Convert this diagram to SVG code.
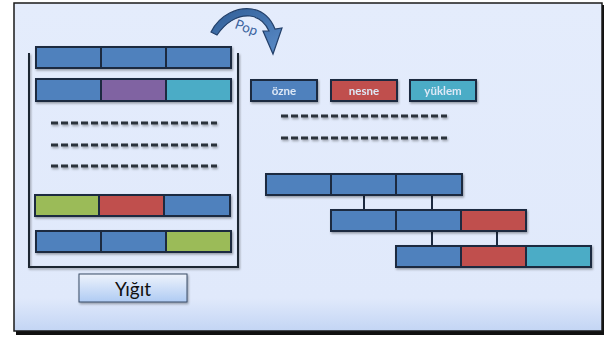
<svg xmlns="http://www.w3.org/2000/svg" width="610" height="340" viewBox="0 0 610 340">
<defs>
<linearGradient id="bg" x1="0" y1="0" x2="0" y2="1">
<stop offset="0" stop-color="#e4ecfc"/>
<stop offset="0.9" stop-color="#e0e9fb"/>
<stop offset="1" stop-color="#c3d5f4"/>
</linearGradient>
<linearGradient id="btn" x1="0" y1="0" x2="0" y2="1">
<stop offset="0" stop-color="#eef3fc"/>
<stop offset="1" stop-color="#afcbf3"/>
</linearGradient>
<linearGradient id="arr" x1="0" y1="0" x2="1" y2="1">
<stop offset="0" stop-color="#2f5d96"/>
<stop offset="1" stop-color="#5b8cc8"/>
</linearGradient>
<filter id="sh" x="-10%" y="-10%" width="130%" height="140%">
<feDropShadow dx="1" dy="1.5" stdDeviation="0.8" flood-color="#000" flood-opacity="0.35"/>
</filter>
</defs>
<style>
.cell{stroke:#1c2a40;stroke-width:2}
.b{fill:#4f81bd}.p{fill:#8064a2}.t{fill:#4bacc6}.r{fill:#c0504d}.g{fill:#9bbb59}
.dash{stroke:#2a303b;stroke-width:2.8;stroke-dasharray:7 3;fill:none}
.lbl{font-family:Lato,"Open Sans",sans-serif;font-size:11.5px;font-weight:bold;fill:#dde8f6;text-anchor:middle}
.conn{stroke:#1c2a40;stroke-width:2;fill:none}
</style>
<rect x="16" y="5" width="588" height="330" fill="#111"/>
<rect x="14" y="3" width="588" height="328" fill="url(#bg)" stroke="#1a1a1a" stroke-width="1.5"/>
<path d="M29,53 V267 H238 V53" fill="none" stroke="#1e2633" stroke-width="2" filter="url(#sh)"/>
<g id="stack-row1" filter="url(#sh)">
<rect class="cell b" x="36" y="47" width="65" height="21"/>
<rect class="cell b" x="101" y="47" width="65" height="21"/>
<rect class="cell b" x="166" y="47" width="65" height="21"/>
</g>
<g id="stack-row2" filter="url(#sh)">
<rect class="cell b" x="36" y="79" width="65" height="22"/>
<rect class="cell p" x="101" y="79" width="65" height="22"/>
<rect class="cell t" x="166" y="79" width="65" height="22"/>
</g>
<g id="stack-dashes" filter="url(#sh)">
<line class="dash" x1="51" y1="123" x2="217" y2="123"/>
<line class="dash" x1="51" y1="145" x2="217" y2="145"/>
<line class="dash" x1="51" y1="166" x2="217" y2="166"/>
</g>
<g id="stack-row3" filter="url(#sh)">
<rect class="cell g" x="35" y="195" width="64" height="21"/>
<rect class="cell r" x="99" y="195" width="65" height="21"/>
<rect class="cell b" x="164" y="195" width="66" height="21"/>
</g>
<g id="stack-row4" filter="url(#sh)">
<rect class="cell b" x="36" y="231" width="65" height="21"/>
<rect class="cell b" x="101" y="231" width="65" height="21"/>
<rect class="cell g" x="166" y="231" width="65" height="21"/>
</g>
<g id="yigit">
<rect x="79" y="274" width="108" height="28" fill="url(#btn)" stroke="#3b4c66" stroke-width="1" filter="url(#sh)"/>
<text x="133" y="296" font-family="Lato,'Open Sans',sans-serif" font-size="19" fill="#111" text-anchor="middle">Yığıt</text>
</g>
<g id="pop">
<path d="M211,32 C220,14 238,7 252,9 C264,11 271,19 275,29 L282,28 L273,54 L263,31 L269,31 C265,22 259,17 250,16 C238,15 226,22 217,35 Z" fill="url(#arr)" stroke="#23406a" stroke-width="1.2"/>
<text x="0" y="0" transform="translate(234,28) rotate(20)" font-family="Lato,'Open Sans',sans-serif" font-size="13.5" fill="#3c64a0">Pop</text>
</g>
<g id="ozne" filter="url(#sh)">
<rect class="cell b" x="251" y="80" width="66" height="21"/>
<text class="lbl" x="284" y="94.5">özne</text>
</g>
<g id="nesne" filter="url(#sh)">
<rect class="cell r" x="331" y="80" width="66" height="21"/>
<text class="lbl" x="364" y="94.5">nesne</text>
</g>
<g id="yuklem" filter="url(#sh)">
<rect class="cell t" x="410" y="80" width="66" height="21"/>
<text class="lbl" x="443" y="94.5">yüklem</text>
</g>
<g id="right-dashes" filter="url(#sh)">
<line class="dash" x1="281" y1="116" x2="447" y2="116"/>
<line class="dash" x1="281" y1="138" x2="447" y2="138"/>
</g>
<g id="connectors">
<line class="conn" x1="364" y1="195" x2="364" y2="210"/>
<line class="conn" x1="432" y1="195" x2="432" y2="210"/>
<line class="conn" x1="432" y1="231" x2="432" y2="246"/>
<line class="conn" x1="497" y1="231" x2="497" y2="246"/>
</g>
<g id="tree-row1" filter="url(#sh)">
<rect class="cell b" x="266" y="174" width="65" height="21"/>
<rect class="cell b" x="331" y="174" width="65" height="21"/>
<rect class="cell b" x="396" y="174" width="66" height="21"/>
</g>
<g id="tree-row2" filter="url(#sh)">
<rect class="cell b" x="331" y="210" width="65" height="21"/>
<rect class="cell b" x="396" y="210" width="65" height="21"/>
<rect class="cell r" x="461" y="210" width="65" height="21"/>
</g>
<g id="tree-row3" filter="url(#sh)">
<rect class="cell b" x="396" y="246" width="65" height="21"/>
<rect class="cell r" x="461" y="246" width="65" height="21"/>
<rect class="cell t" x="526" y="246" width="65" height="21"/>
</g>
</svg>
